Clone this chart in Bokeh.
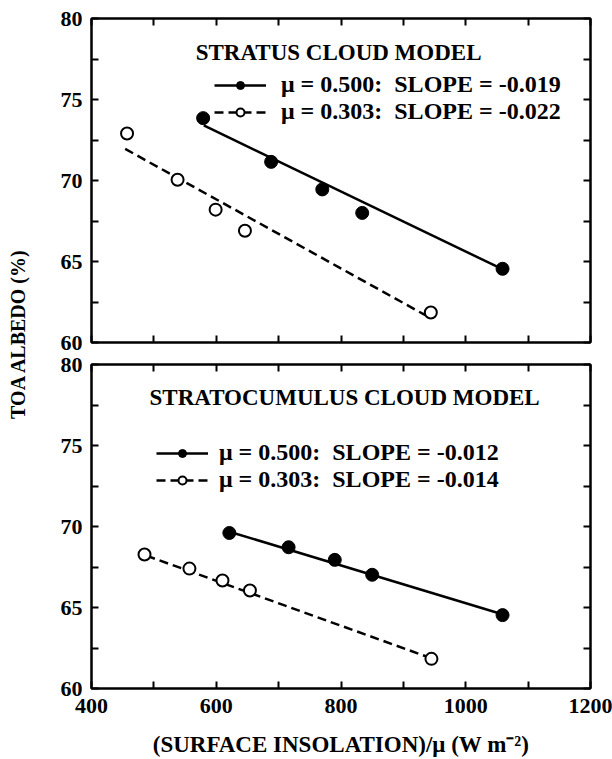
from math import pi
from bokeh.plotting import figure
from bokeh.models import FixedTicker, LinearAxis, Label, Legend, LegendItem, Range1d
from bokeh.layouts import row, column
from bokeh.embed import file_html
from bokeh.resources import INLINE

FONT = "Liberation Serif"

# ---------------- data ----------------
x_ticks = [400, 600, 800, 1000, 1200]
x_minor = [500, 700, 900, 1100]
y_ticks = [60, 65, 70, 75, 80]
y_minor = [62.5, 67.5, 72.5, 77.5]

# Stratus cloud model
st_x_500 = [579, 688, 770, 834, 1059]
st_y_500 = [73.85, 71.15, 69.45, 68.0, 64.55]
st_x_303 = [457, 538, 599, 646, 944]
st_y_303 = [72.9, 70.05, 68.2, 66.9, 61.85]
st_fit_x_500 = [580, 1052]
st_fit_y_500 = [73.4, 64.65]
st_fit_x_303 = [454, 936]
st_fit_y_303 = [71.95, 61.67]

# Stratocumulus cloud model
sc_x_500 = [621, 716, 790, 850, 1059]
sc_y_500 = [69.6, 68.72, 67.94, 67.02, 64.53]
sc_x_303 = [485, 557, 610, 654, 945]
sc_y_303 = [68.27, 67.4, 66.67, 66.05, 61.83]
sc_fit_x_500 = [621, 1052]
sc_fit_y_500 = [69.68, 64.66]
sc_fit_x_303 = [488, 936]
sc_fit_y_303 = [68.2, 61.99]

st_title = "STRATUS  CLOUD  MODEL"
sc_title = "STRATOCUMULUS  CLOUD  MODEL"
st_labels = ["\u03bc = 0.500:  SLOPE = -0.019", "\u03bc = 0.303:  SLOPE = -0.022"]
sc_labels = ["\u03bc = 0.500:  SLOPE = -0.012", "\u03bc = 0.303:  SLOPE = -0.014"]
x_label = "(SURFACE INSOLATION)/\u03bc (W m\u207b\u00b2)"
y_label = "TOA  ALBEDO    (%)"

TICK_FS = "22px"
TITLE_FS = "23px"
LEG_FS = "24px"


def make_axis(ticks, minor, show_labels, standoff=0):
    ax = LinearAxis(ticker=FixedTicker(ticks=ticks, minor_ticks=minor))
    ax.major_tick_in = 7
    ax.major_tick_out = 0
    ax.minor_tick_in = 7
    ax.minor_tick_out = 0
    ax.major_tick_line_width = 2
    ax.minor_tick_line_width = 2
    ax.axis_line_width = 2
    ax.axis_line_color = "black"
    ax.major_tick_line_color = "black"
    ax.minor_tick_line_color = "black"
    ax.major_label_text_font = FONT
    ax.major_label_text_font_style = "bold"
    if show_labels:
        ax.major_label_text_color = "black"
        ax.major_label_text_font_size = TICK_FS
        ax.major_label_standoff = standoff
    else:
        ax.major_label_text_color = None
        ax.major_label_text_font_size = "1px"
        ax.major_label_standoff = 0
    return ax


def make_panel(height, mb_top, mb_bottom, show_x_labels):
    p = figure(width=574, height=height, x_range=Range1d(400, 1200), y_range=Range1d(60, 80),
               x_axis_type=None, y_axis_type=None,
               output_backend="svg", toolbar_location=None,
               min_border_left=53, min_border_right=22,
               min_border_top=mb_top, min_border_bottom=mb_bottom)
    p.xgrid.visible = False
    p.ygrid.visible = False
    p.outline_line_color = "black"
    p.outline_line_width = 2
    p.background_fill_color = "white"
    p.border_fill_color = "white"
    xb = make_axis(x_ticks, x_minor, show_x_labels, 10)
    yl = make_axis(y_ticks, y_minor, True, 9)
    xa = make_axis(x_ticks, x_minor, False)
    yr = make_axis(y_ticks, y_minor, False)
    p.add_layout(xb, "below")
    p.add_layout(yl, "left")
    p.add_layout(xa, "above")
    p.add_layout(yr, "right")
    return p, xb


def draw_series(p, x500, y500, x303, y303, fx500, fy500, fx303, fy303, labels, title,
                title_x, title_y, leg_loc, standoff):
    l1 = p.line(fx500, fy500, line_color="black", line_width=2.5)
    l2 = p.line(fx303, fy303, line_color="black", line_width=2.5, line_dash="9 5")
    s1 = p.scatter(x500, y500, size=13, marker="circle", fill_color="black", line_color="black")
    s2 = p.scatter(x303, y303, size=12, marker="circle", fill_color="white", line_color="black",
                   line_width=2)
    leg = Legend(items=[LegendItem(label=labels[0], renderers=[l1, s1]),
                        LegendItem(label=labels[1], renderers=[l2, s2])],
                 location=leg_loc, border_line_color=None, background_fill_alpha=0,
                 label_text_font=FONT, label_text_font_style="bold",
                 label_text_font_size=LEG_FS, label_text_color="black",
                 glyph_width=52, glyph_height=20, label_height=20, spacing=-6,
                 padding=0, margin=0, label_standoff=standoff)
    p.add_layout(leg)
    p.add_layout(Label(x=title_x, y=title_y, text=title, text_font=FONT,
                       text_font_style="bold", text_font_size=TITLE_FS,
                       text_align="left", text_baseline="middle", text_color="black"))


top, _ = make_panel(353, 18, 11, False)
draw_series(top, st_x_500, st_y_500, st_x_303, st_y_303,
            st_fit_x_500, st_fit_y_500, st_fit_x_303, st_fit_y_303,
            st_labels, st_title, 567, 77.9, (123, 217), 15)

bot, bot_x = make_panel(406, 11, 70, True)
bot_x.axis_label = x_label
bot_x.axis_label_text_font = FONT
bot_x.axis_label_text_font_style = "bold"
bot_x.axis_label_text_font_size = "23px"
bot_x.axis_label_text_color = "black"
bot_x.axis_label_standoff = 16
draw_series(bot, sc_x_500, sc_y_500, sc_x_303, sc_y_303,
            sc_fit_x_500, sc_fit_y_500, sc_fit_x_303, sc_fit_y_303,
            sc_labels, sc_title, 493, 77.97, (65, 195), 11)

lab = figure(width=38, height=759, x_range=Range1d(0, 38), y_range=Range1d(0, 759),
             x_axis_type=None, y_axis_type=None, output_backend="svg", toolbar_location=None,
             min_border=0)
lab.outline_line_color = None
lab.xgrid.visible = False
lab.ygrid.visible = False
lab.add_layout(Label(x=17, y=436, text=y_label, angle=pi / 2, text_font=FONT,
                     text_font_style="bold", text_font_size="20px",
                     text_align="center", text_baseline="middle", text_color="black"))

layout = row(lab, column(top, bot))
open("out.html", "w").write(file_html(layout, INLINE))
